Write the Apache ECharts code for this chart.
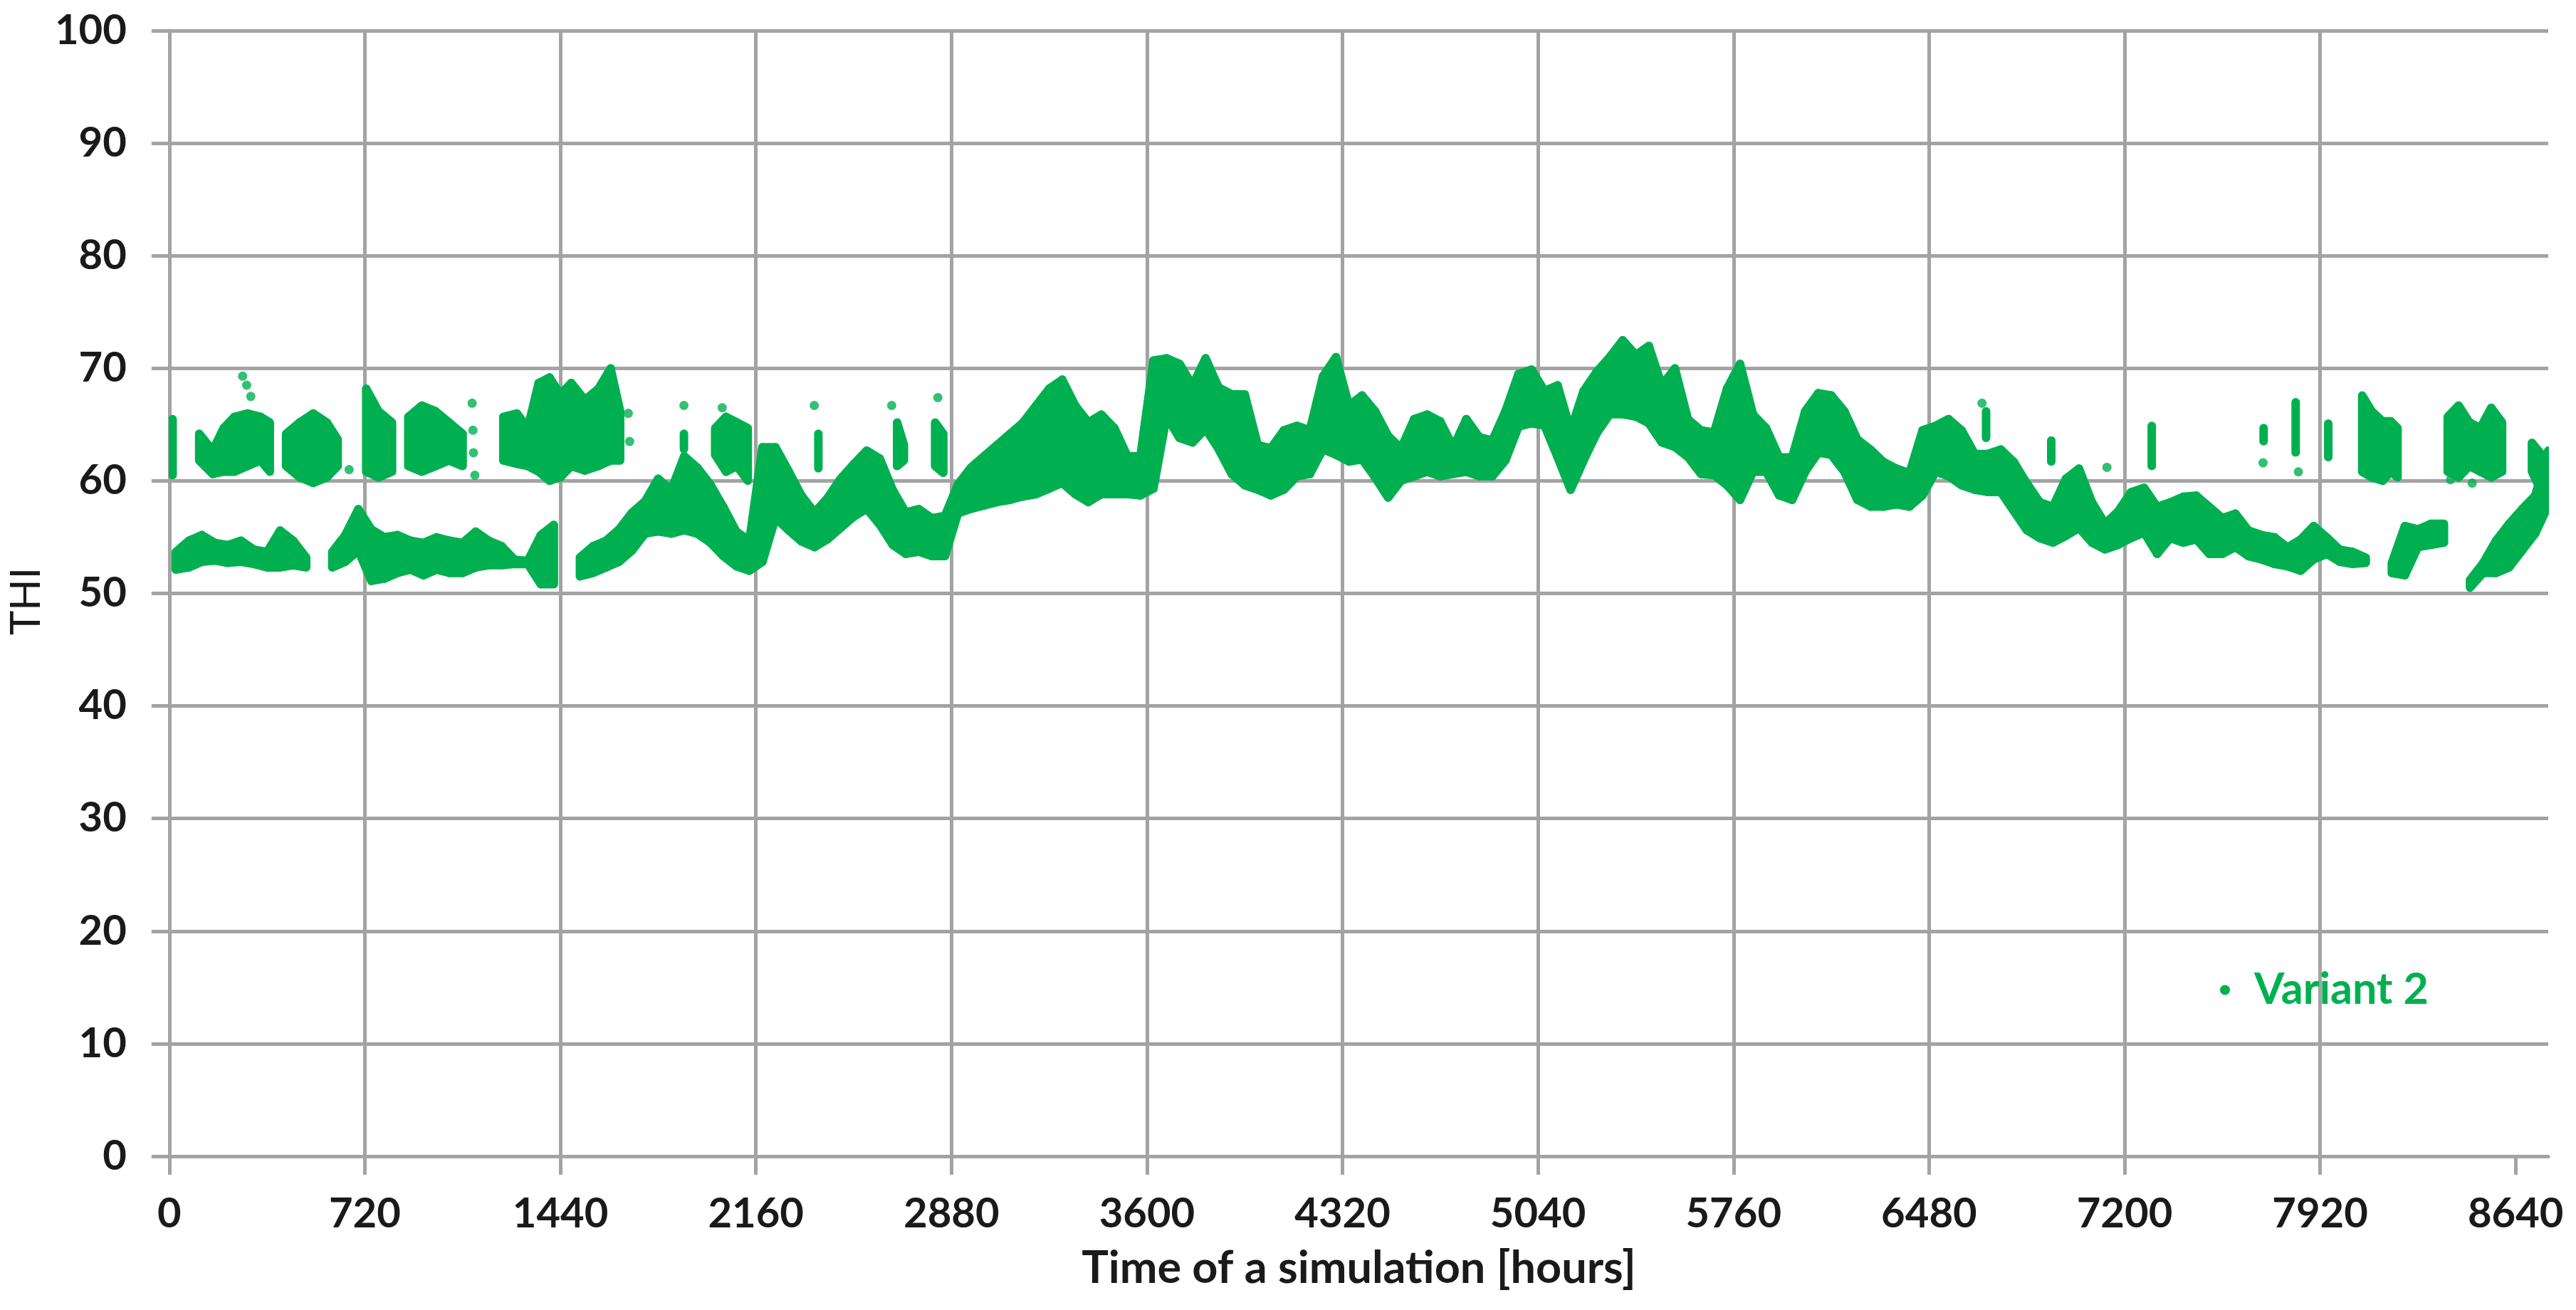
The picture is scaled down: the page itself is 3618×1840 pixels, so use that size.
<!DOCTYPE html>
<html><head><meta charset="utf-8">
<script src="https://cdn.jsdelivr.net/npm/echarts@6/dist/echarts.min.js"></script>
<style>html,body{margin:0;padding:0;background:#fff}#c{width:3618px;height:1840px}</style>
</head><body><div id="c"></div>
<script>
// ---- data ----
const xTickValues = [0, 720, 1440, 2160, 2880, 3600, 4320, 5040, 5760, 6480, 7200, 7920, 8640];
const BIN_HOURS = 48; // main band sampled in 48-hour bins (bin i centred at 24 + 48 i)
const bandLow = [
51.8,52.0,52.5,52.6,52.4,52.5,52.3,52.0,52.0,52.2,52.0,null,52.0,52.5,53.5,50.8,51.0,51.5,51.8,51.3,
51.8,51.5,51.5,52.0,52.2,52.2,52.3,52.3,50.5,50.5,null,51.2,51.5,52.0,52.5,53.5,55.0,55.2,55.0,55.3,
55.0,54.2,53.0,52.1,51.7,52.5,56.4,55.3,54.3,53.8,54.5,55.5,56.5,57.2,55.8,54.0,53.2,53.4,53.0,53.0,
56.8,57.2,57.5,57.8,58.0,58.3,58.5,59.0,59.5,58.5,57.8,58.5,58.5,58.5,58.4,59.0,65.4,63.5,63.1,64.3,
62.5,60.3,59.3,58.9,58.4,58.9,60.1,60.3,62.5,62.0,61.4,61.6,60.0,58.2,59.7,60.1,60.5,60.1,60.3,60.5,
60.1,60.1,61.5,64.5,64.8,64.6,61.8,58.9,61.5,63.9,65.6,65.6,65.4,64.8,63.1,62.7,61.8,60.3,60.2,59.3,
58.0,60.5,60.5,58.4,58.0,60.5,62.2,62.0,60.5,58.0,57.4,57.4,57.6,57.4,58.4,60.5,60.1,59.3,58.9,58.7,
58.7,57.0,55.3,54.6,54.2,54.8,55.5,54.2,53.6,54.0,54.6,55.1,53.2,54.6,54.2,54.5,53.2,53.2,53.8,53.0,
52.7,52.3,52.1,51.7,52.7,53.2,52.5,52.3,52.4,null,51.5,51.3,53.8,54.0,54.2,null,50.2,51.5,51.5,52.0,
53.5,55.0,57.5];
const bandHigh = [
54.0,55.0,55.5,54.8,54.6,55.0,54.2,54.0,55.9,55.0,53.5,null,54.0,55.5,57.8,56.0,55.3,55.5,55.0,54.8,
55.3,55.0,54.8,55.8,55.0,54.5,53.3,53.2,55.5,56.4,null,53.5,54.5,55.0,56.0,57.5,58.5,60.5,59.5,62.5,
61.5,60.0,58.0,55.8,55.0,63.3,63.3,61.2,59.0,57.5,58.8,60.5,61.8,63.0,62.3,59.5,57.5,57.8,57.0,57.2,
60.0,61.5,62.5,63.5,64.5,65.5,67.0,68.5,69.3,67.0,65.5,66.2,65.0,62.5,62.5,71.0,71.2,70.7,68.8,71.2,
68.6,68.0,68.0,63.5,63.2,64.8,65.2,64.8,69.6,71.3,67.0,67.9,66.5,64.3,63.2,65.8,66.2,65.6,63.3,65.8,
64.2,63.9,66.5,69.8,70.2,68.3,68.8,64.8,68.3,70.0,71.3,72.8,71.5,72.3,68.8,70.3,65.8,64.8,64.6,68.5,
70.7,66.2,65.0,62.4,62.4,66.5,68.1,67.9,66.5,64.0,63.1,62.0,61.4,61.0,64.8,65.2,65.8,64.8,62.7,62.7,
63.1,62.0,60.1,58.4,58.0,60.5,61.4,58.4,56.5,57.6,59.3,59.7,58.0,58.4,58.9,59.0,58.0,57.0,57.4,55.9,
55.5,55.3,54.4,55.1,56.3,55.3,54.2,54.0,53.5,null,53.0,56.3,56.0,56.5,56.5,null,51.5,53.0,55.0,56.5,
57.8,59.0,63.0];
// upper (winter) cluster: hour, low, high
const upperHours = [12,110,160,200,240,288,336,370,430,480,530,580,620,725,770,820,880,930,980,1030,1080,
1230,1280,1320,1360,1400,1440,1480,1530,1580,1625,1660,1895,2010,2050,2090,2130,2390,2680,2705,2820,2850,
6690,6930,7300,7712,7830,7950,8075,8110,8150,8180,8205,8390,8430,8470,8510,8550,8590,8700,8740];
const upperLow = [60.2,61.5,60.3,60.5,60.5,61.0,61.5,60.5,61.0,60.0,59.5,60.0,61.0,60.5,60.0,60.5,61.0,60.5,61.0,61.5,61.0,
61.5,61.2,61.0,60.5,59.7,60.0,61.0,60.6,61.0,61.5,61.5,62.5,62.0,60.5,61.0,59.7,60.8,61.0,61.5,61.0,60.4,
63.5,61.4,61.0,63.2,62.2,61.8,60.5,60.0,59.7,60.5,60.0,60.5,60.0,61.0,60.5,60.0,60.5,60.5,58.5];
const upperHigh = [65.8,64.5,63.0,65.0,66.0,66.3,66.0,65.5,64.5,65.5,66.3,65.5,64.0,68.5,66.5,65.5,66.0,67.0,66.5,65.5,64.5,
66.0,66.3,65.0,69.0,69.5,68.0,69.0,67.5,68.5,70.3,66.5,64.5,65.0,66.0,65.5,65.0,64.5,65.5,63.5,65.5,64.5,
66.5,63.9,65.2,65.0,67.3,65.4,67.9,66.5,65.6,65.6,65.0,66.0,67.0,65.5,65.0,66.8,65.5,63.7,62.5];
// isolated points
const dotHours = [270,285,300,662,1115,1118,1120,1125,1690,1695,1895,2036,2375,2660,2830,6675,7135,7710,7840,8400,8480];
const dotTHI   = [69.3,68.5,67.5,61.0,66.9,64.5,62.5,60.5,66.0,63.5,66.7,66.5,66.7,66.7,67.4,66.9,61.2,61.6,60.8,60.1,59.8];

// ---- chart ----
const GREEN = '#00b050';
const GRID = '#a3a3a3';
const FONT = 'Lato, "Open Sans", sans-serif';

// join neighbouring samples (closer than maxGap hours) into filled segments
function buildSegments(xs, lows, highs, maxGap) {
  const segs = [];
  for (let i = 0; i < xs.length; i++) {
    if (lows[i] == null) continue;
    const nextOk = i + 1 < xs.length && lows[i + 1] != null && xs[i + 1] - xs[i] <= maxGap;
    const prevOk = i > 0 && lows[i - 1] != null && xs[i] - xs[i - 1] <= maxGap;
    if (nextOk) segs.push([xs[i], lows[i], highs[i], xs[i + 1], lows[i + 1], highs[i + 1]]);
    else if (!prevOk) segs.push([xs[i], lows[i], highs[i], xs[i], lows[i], highs[i]]);
  }
  return segs;
}
const bandHours = bandLow.map((_, i) => BIN_HOURS / 2 + i * BIN_HOURS);
const bandSegs = buildSegments(bandHours, bandLow, bandHigh, BIN_HOURS);
const upperSegs = buildSegments(upperHours, upperLow, upperHigh, 55);
const dotData = dotHours.map((h, i) => [h, dotTHI[i]]);

const STROKE = 12, INSET = 5;
function renderSeg(params, api) {
  const a = api.coord([api.value(0), api.value(2)]);
  const b = api.coord([api.value(3), api.value(5)]);
  const c = api.coord([api.value(3), api.value(4)]);
  const d = api.coord([api.value(0), api.value(1)]);
  let ya = a[1] + INSET, yd = d[1] - INSET; if (ya > yd) { ya = yd = (a[1] + d[1]) / 2; }
  let yb = b[1] + INSET, yc = c[1] - INSET; if (yb > yc) { yb = yc = (b[1] + c[1]) / 2; }
  return {
    type: 'polygon',
    shape: { points: [[a[0], ya], [b[0], yb], [c[0], yc], [d[0], yd]] },
    style: { fill: GREEN, stroke: GREEN, lineWidth: STROKE, lineJoin: 'round' }
  };
}
const segDims = ['h0', 'lo0', 'hi0', 'h1', 'lo1', 'hi1'];

const chart = echarts.init(document.getElementById('c'), null, { renderer: 'canvas' });
chart.setOption({
  animation: false,
  backgroundColor: '#fff',
  grid: { left: 228, right: 39, top: 43, bottom: 216, containLabel: false },
  legend: {
    data: [{ name: 'Variant 2', icon: 'circle', itemStyle: { color: GREEN } }],
    left: 3113, top: 1355, itemWidth: 72, itemHeight: 14,
    textStyle: { color: GREEN, fontSize: 61, fontWeight: 'bold', fontFamily: FONT }
  },
  xAxis: {
    type: 'value', min: 0, max: 8760, interval: 720,
    name: 'Time of a simulation [hours]', nameLocation: 'middle', nameGap: 126,
    nameTextStyle: { fontSize: 63, fontWeight: 'bold', color: '#1a1a1a', fontFamily: FONT },
    axisLine: { show: true, onZero: false, lineStyle: { color: GRID, width: 5 } },
    axisTick: { show: true, length: 26, lineStyle: { color: GRID, width: 5 }, customValues: xTickValues },
    axisLabel: { margin: 52, fontSize: 58, fontWeight: 'bold', color: '#1a1a1a', fontFamily: FONT,
                 customValues: xTickValues, formatter: v => String(v) },
    splitLine: { show: true, showMaxLine: false, lineStyle: { color: GRID, width: 5 } }
  },
  yAxis: {
    type: 'value', min: 0, max: 100, interval: 10,
    name: 'THI', nameLocation: 'middle', nameGap: 128, nameRotate: 90,
    nameTextStyle: { fontSize: 58, color: '#1a1a1a', fontFamily: FONT, padding: [0, 22, 0, 0] },
    axisLine: { show: true, lineStyle: { color: GRID, width: 5 } },
    axisTick: { show: true, length: 25, lineStyle: { color: GRID, width: 5 } },
    axisLabel: { margin: 60, fontSize: 58, fontWeight: 'bold', color: '#1a1a1a', fontFamily: FONT,
                 formatter: v => String(v) },
    splitLine: { show: true, lineStyle: { color: GRID, width: 5 } }
  },
  series: [
    { name: 'Variant 2', type: 'custom', clip: true, data: bandSegs, dimensions: segDims,
      encode: { x: [0, 3], y: [1, 2, 4, 5] }, itemStyle: { color: GREEN }, renderItem: renderSeg },
    { name: 'Variant 2', type: 'custom', clip: true, data: upperSegs, dimensions: segDims,
      encode: { x: [0, 3], y: [1, 2, 4, 5] }, itemStyle: { color: GREEN }, renderItem: renderSeg },
    { name: 'Variant 2', type: 'scatter', data: dotData, symbol: 'circle', symbolSize: 13,
      itemStyle: { color: GREEN } }
  ]
});
</script>
</body></html>
